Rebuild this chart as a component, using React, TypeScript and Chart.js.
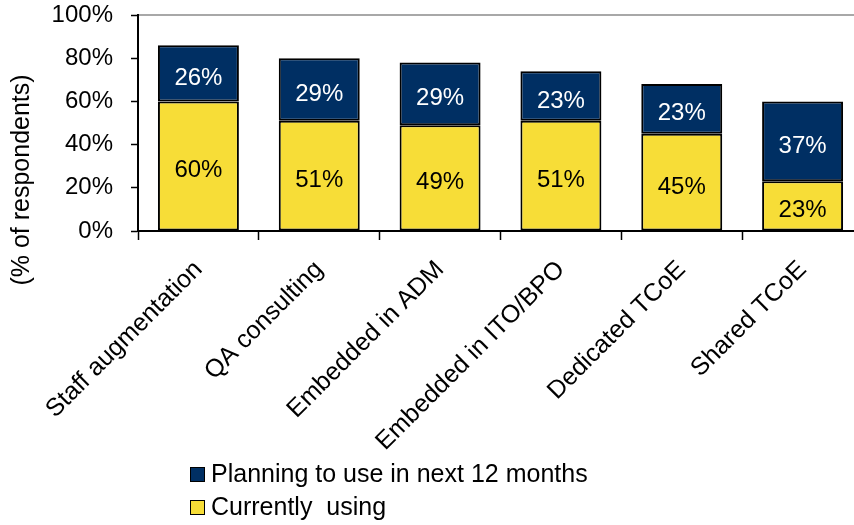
import React, { useEffect, useRef } from "react";
import { Chart, registerables } from "chart.js";

Chart.register(...registerables);

const categories = [
  "Staff augmentation",
  "QA consulting",
  "Embedded in ADM",
  "Embedded in ITO/BPO",
  "Dedicated TCoE",
  "Shared TCoE",
];
const currentlyUsing = [60, 51, 49, 51, 45, 23];
const planningToUse = [26, 29, 29, 23, 23, 37];
const seriesNames = ["Currently  using", "Planning to use in next 12 months"];
const yAxisTitle = "(% of respondents)";

const FONT = "'Liberation Sans', Arial, sans-serif";
const YELLOW = "#F7DD37";
const NAVY = "#002F63";

const overlayPlugin = {
  id: "overlay",
  afterDatasetsDraw(chart: any) {
    const ctx = chart.ctx;
    ctx.save();
    ctx.font = `24px ${FONT}`;
    ctx.textAlign = "center";
    ctx.textBaseline = "alphabetic";
    chart.data.datasets.forEach((ds: any, i: number) => {
      const meta = chart.getDatasetMeta(i);
      meta.data.forEach((el: any, j: number) => {
        const p = el.getCenterPoint();
        ctx.fillStyle = i === 0 ? "#000" : "#fff";
        ctx.fillText(`${ds.data[j]}%`, p.x, p.y + 11.5);
      });
    });
    ctx.restore();
  },
  afterDraw(chart: any) {
    const ctx = chart.ctx;
    const a = chart.chartArea;
    // top border of plot area
    ctx.save();
    ctx.strokeStyle = "#A8A8A8";
    ctx.lineWidth = 2;
    ctx.beginPath();
    ctx.moveTo(a.left + 1, a.top);
    ctx.lineTo(a.right, a.top);
    ctx.stroke();
    ctx.restore();

    // y axis title
    ctx.save();
    ctx.font = `25px ${FONT}`;
    ctx.fillStyle = "#000";
    ctx.translate(22, 180);
    ctx.rotate(-Math.PI / 2);
    ctx.textAlign = "center";
    ctx.textBaseline = "middle";
    ctx.fillText(yAxisTitle, 0, 0);
    ctx.restore();

    // legend (reversed order)
    ctx.save();
    ctx.font = `25px ${FONT}`;
    ctx.textAlign = "left";
    ctx.textBaseline = "alphabetic";
    const items = [...chart.data.datasets].reverse();
    items.forEach((ds: any, k: number) => {
      const top = 467 + k * 33;
      ctx.fillStyle = ds.backgroundColor;
      ctx.fillRect(190.5, top + 0.5, 14, 14);
      ctx.strokeStyle = "#000";
      ctx.lineWidth = 1;
      ctx.strokeRect(190.5, top + 0.5, 14, 14);
      ctx.fillStyle = "#000";
      ctx.fillText(ds.label, 211, top + 15);
    });
    ctx.restore();
  },
};

export default function App() {
  const ref = useRef<HTMLCanvasElement | null>(null);

  useEffect(() => {
    document.documentElement.style.overflow = "hidden";
    document.body.style.overflow = "hidden";
    document.body.style.margin = "0";
    const canvas = ref.current;
    if (!canvas) return;
    const chart = new Chart(canvas, {
      type: "bar",
      data: {
        labels: categories,
        datasets: [
          {
            label: seriesNames[0],
            data: currentlyUsing,
            backgroundColor: YELLOW,
            borderColor: "#000",
            borderWidth: 2,
            borderSkipped: false,
            barPercentage: 0.67,
            categoryPercentage: 1,
          },
          {
            label: seriesNames[1],
            data: planningToUse,
            backgroundColor: NAVY,
            borderColor: "#000",
            borderWidth: 2,
            borderSkipped: false,
            barPercentage: 0.67,
            categoryPercentage: 1,
          },
        ],
      },
      options: {
        responsive: false,
        animation: false,
        devicePixelRatio: 1,
        layout: { padding: { top: 0, right: 7, left: 0, bottom: 0 } },
        plugins: {
          legend: { display: false },
          tooltip: { enabled: false },
        },
        scales: {
          x: {
            stacked: true,
            border: { display: true, color: "#000", width: 2 },
            grid: {
              offset: true,
              drawOnChartArea: false,
              color: "rgba(0,0,0,0)",
              tickColor: "#000",
              tickLength: 9,
              tickWidth: 1.5,
            },
            ticks: {
              minRotation: 45,
              maxRotation: 45,
              autoSkip: false,
              padding: 15,
              color: "#000",
              font: { family: FONT, size: 25 },
            },
            afterFit: (axis: any) => {
              axis.height = 294;
            },
          },
          y: {
            stacked: true,
            min: 0,
            max: 100,
            border: { display: true, color: "#000", width: 2 },
            grid: {
              drawOnChartArea: false,
              color: "rgba(0,0,0,0)",
              tickColor: "#000",
              tickLength: 7,
              tickWidth: 1.5,
            },
            ticks: {
              stepSize: 20,
              padding: 18,
              color: "#000",
              font: { family: FONT, size: 24 },
              callback: (v: any) => `${v}%`,
            },
            afterFit: (axis: any) => {
              axis.width = 138;
              axis.paddingTop = 15;
            },
          },
        },
      },
      plugins: [overlayPlugin],
    });
    return () => chart.destroy();
  }, []);

  return (
    <div style={{ position: "absolute", left: 0, top: 0, width: 870, height: 525, overflow: "hidden" }}>
      <canvas ref={ref} width={870} height={525} />
    </div>
  );
}
